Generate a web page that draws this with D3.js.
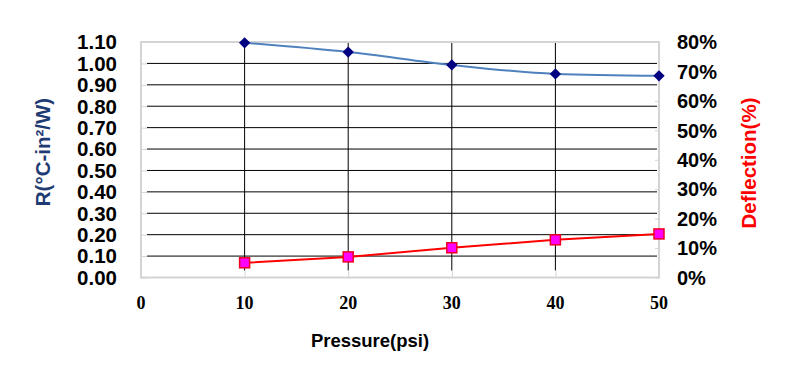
<!DOCTYPE html>
<html>
<head>
<meta charset="utf-8">
<script src="https://cdn.jsdelivr.net/npm/d3@7"></script>
<style>
body { margin: 0; background: #fff; }
text { font-family: "Liberation Sans", Arial, sans-serif; font-weight: bold; }
</style>
</head>
<body>
<div id="chart"></div>
<script>
// data
var pressure = [10, 20, 30, 40, 50];
var resistance = [1.096, 1.053, 0.993, 0.951, 0.942];
var deflection = [0.050, 0.070, 0.101, 0.128, 0.148];
var xTicks = [0, 10, 20, 30, 40, 50];
var leftTicks = [0, 0.1, 0.2, 0.3, 0.4, 0.5, 0.6, 0.7, 0.8, 0.9, 1.0, 1.1];
var rightTicks = [0, 0.1, 0.2, 0.3, 0.4, 0.5, 0.6, 0.7, 0.8];

var width = 801, height = 372;
var plotLeft = 141, plotRight = 659, plotTop = 42, plotBottom = 277.5;

var svg = d3.select("#chart").append("svg")
	.attr("width", width)
	.attr("height", height);

var x = d3.scaleLinear().domain([0, 50]).range([plotLeft, plotRight]);
var yL = d3.scaleLinear().domain([0, 1.1]).range([plotBottom, plotTop]);
var yR = d3.scaleLinear().domain([0, 0.8]).range([plotBottom, plotTop]);

// horizontal gridlines (black)
svg.selectAll(".hgrid")
	.data(leftTicks.filter(function(d){ return d > 0 && d < 1.05; }))
	.enter().append("line")
	.attr("x1", plotLeft + 6).attr("x2", plotRight - 2)
	.attr("y1", function(d){ return yL(d); })
	.attr("y2", function(d){ return yL(d); })
	.style("stroke", "#000").style("stroke-width", 1);

// vertical gridlines (black)
svg.selectAll(".vgrid")
	.data(xTicks.filter(function(d){ return d > 0 && d < 50; }))
	.enter().append("line")
	.attr("x1", function(d){ return x(d); })
	.attr("x2", function(d){ return x(d); })
	.attr("y1", plotTop).attr("y2", plotBottom - 7)
	.style("stroke", "#000").style("stroke-width", 1);

// light grey frame
svg.append("rect")
	.attr("x", plotLeft).attr("y", plotTop)
	.attr("width", plotRight - plotLeft).attr("height", plotBottom - plotTop)
	.style("fill", "none").style("stroke", "#d4d4d4").style("stroke-width", 2);

// small inner ticks
var leftAxis = d3.axisLeft(yL).tickValues(leftTicks).tickSizeInner(-6).tickSizeOuter(0).tickFormat("");
var rightAxis = d3.axisRight(yR).tickValues(rightTicks).tickSizeInner(-4).tickSizeOuter(0).tickFormat("");
var bottomAxis = d3.axisBottom(x).tickValues(xTicks).tickSizeInner(-7).tickSizeOuter(0).tickFormat("");
[[leftAxis, "translate(" + plotLeft + ",0)"], [rightAxis, "translate(" + plotRight + ",0)"], [bottomAxis, "translate(0," + plotBottom + ")"]].forEach(function(a){
	var g = svg.append("g").attr("transform", a[1]).call(a[0]);
	g.select(".domain").remove();
	g.selectAll("line").style("stroke", "#d4d4d4");
});

// tick labels
svg.selectAll(".ltick")
	.data(leftTicks)
	.enter().append("text")
	.attr("x", 117)
	.attr("y", function(d){ return yL(d); })
	.attr("dy", "0.36em")
	.attr("text-anchor", "end")
	.style("font-size", "20.5px")
	.text(function(d){ return d3.format(".2f")(d); });

svg.selectAll(".rtick")
	.data(rightTicks)
	.enter().append("text")
	.attr("x", 677)
	.attr("y", function(d){ return yR(d); })
	.attr("dy", "0.36em")
	.style("font-size", "20px")
	.text(function(d){ return d3.format(".0%")(d); });

svg.selectAll(".xtick")
	.data(xTicks)
	.enter().append("text")
	.attr("x", function(d){ return x(d); })
	.attr("y", 303)
	.attr("dy", "0.35em")
	.attr("text-anchor", "middle")
	.style("font-family", "'Liberation Serif', 'Times New Roman', serif")
	.style("font-size", "18px")
	.text(function(d){ return d; });

// axis titles
svg.append("text")
	.attr("transform", "translate(43,152) rotate(-90)")
	.attr("dy", "0.36em")
	.attr("text-anchor", "middle")
	.style("font-size", "20.5px")
	.style("fill", "#1f3b73")
	.text("R(°C-in²/W)");

svg.append("text")
	.attr("transform", "translate(749,163) rotate(-90)")
	.attr("dy", "0.36em")
	.attr("text-anchor", "middle")
	.style("font-size", "20.5px")
	.style("fill", "#ff0000")
	.text("Deflection(%)");

svg.append("text")
	.attr("x", 370).attr("y", 340)
	.attr("dy", "0.36em")
	.attr("text-anchor", "middle")
	.style("font-size", "18.5px")
	.text("Pressure(psi)");

// resistance series
var rLine = d3.line()
	.x(function(d, i){ return x(pressure[i]); })
	.y(function(d){ return yL(d); })
	.curve(d3.curveMonotoneX);

svg.append("path")
	.datum(resistance)
	.attr("d", rLine)
	.style("fill", "none")
	.style("stroke", "#4f81bd")
	.style("stroke-width", 2);

svg.selectAll(".diamond")
	.data(resistance)
	.enter().append("path")
	.attr("d", d3.symbol().type(d3.symbolSquare).size(64))
	.attr("transform", function(d, i){ return "translate(" + x(pressure[i]) + "," + yL(d) + ") rotate(45)"; })
	.style("fill", "#000080");

// deflection series
var dLine = d3.line()
	.x(function(d, i){ return x(pressure[i]); })
	.y(function(d){ return yR(d); });

svg.append("path")
	.datum(deflection)
	.attr("d", dLine)
	.style("fill", "none")
	.style("stroke", "#ff0000")
	.style("stroke-width", 2);

svg.selectAll(".square")
	.data(deflection)
	.enter().append("rect")
	.attr("x", function(d, i){ return x(pressure[i]) - 5; })
	.attr("y", function(d){ return yR(d) - 5; })
	.attr("width", 10)
	.attr("height", 10)
	.style("fill", "#ff00ff")
	.style("stroke", "#ee0022")
	.style("stroke-width", 1.5);
</script>
</body>
</html>
